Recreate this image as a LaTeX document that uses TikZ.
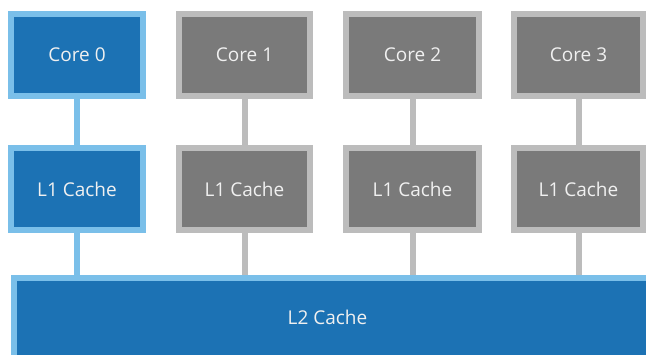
\documentclass[tikz,border=0pt]{standalone}
\usepackage{fontspec}
\setmainfont{Open Sans}
\definecolor{activefill}{HTML}{1C72B4}
\definecolor{activeedge}{HTML}{7ABFE9}
\definecolor{idlefill}{HTML}{7A7A7A}
\definecolor{idleedge}{HTML}{BCBCBC}
\definecolor{labeltext}{HTML}{F0F0F0}
\tikzset{
  labelfont/.style={text=labeltext, font=\fontsize{19}{23}\selectfont},
  unit/.style={draw, line width=6pt, inner sep=0pt, labelfont},
  active/.style={unit, fill=activefill, draw=activeedge},
  idle/.style={unit, fill=idlefill, draw=idleedge},
  link/.style={line width=6pt},
  activelink/.style={link, draw=activeedge},
  idlelink/.style={link, draw=idleedge},
}
\begin{document}
\begin{tikzpicture}[x=1pt, y=1pt]
  \useasboundingbox (0,0) rectangle (646,-354);
  % cores
  \node[active, minimum width=132pt, minimum height=82pt] (c0) at (77,-55) {Core 0};
  \node[idle, minimum width=131pt, minimum height=82pt] (c1) at (244.5,-55) {Core 1};
  \node[idle, minimum width=133pt, minimum height=82pt] (c2) at (412.5,-55) {Core 2};
  \node[idle, minimum width=129pt, minimum height=82pt] (c3) at (578.5,-55) {Core 3};
  % private L1 caches
  \node[active, minimum width=132pt, minimum height=82pt] (l0) at (77,-189) {L1 Cache};
  \node[idle, minimum width=131pt, minimum height=82pt] (l1) at (244.5,-189) {L1 Cache};
  \node[idle, minimum width=133pt, minimum height=82pt] (l2) at (412.5,-189) {L1 Cache};
  \node[idle, minimum width=129pt, minimum height=82pt] (l3) at (578.5,-189) {L1 Cache};
  % shared L2 cache
  \node[active, minimum width=635pt, minimum height=86pt, anchor=north west] (s) at (11,-275) {};
  \node[labelfont] (stext) at (327.5,-317) {L2 Cache};
  % core to L1 links
  \draw[activelink] (c0.south) -- (l0.north);
  \draw[idlelink] (c1.south) -- (l1.north);
  \draw[idlelink] (c2.south) -- (l2.north);
  \draw[idlelink] (c3.south) -- (l3.north);
  % L1 to L2 links
  \draw[activelink] (l0.south) -- (l0.south |- s.north);
  \draw[idlelink] (l1.south) -- (l1.south |- s.north);
  \draw[idlelink] (l2.south) -- (l2.south |- s.north);
  \draw[idlelink] (l3.south) -- (l3.south |- s.north);
\end{tikzpicture}
\end{document}
